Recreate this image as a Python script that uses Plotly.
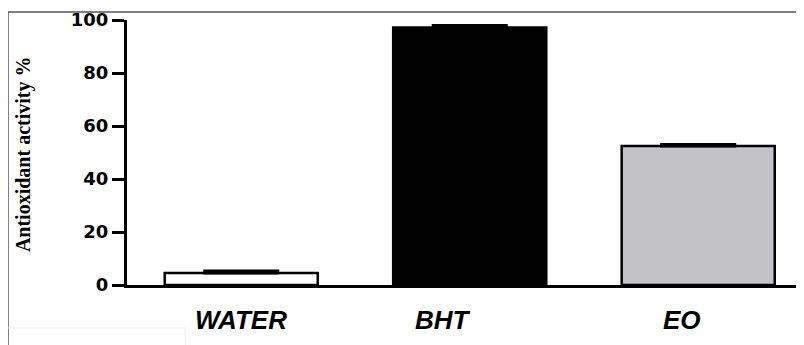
import plotly.graph_objects as go

categories = ["WATER", "BHT", "EO"]
values = [4.5, 97.2, 52.5]
errors = [0.8, 0.7, 0.5]
fill_colors = ["#ffffff", "#000000", "#c4c4c8"]
label_shift = [0, -27, -16]
y_ticks = [0, 20, 40, 60, 80, 100]

fig = go.Figure()
fig.add_trace(go.Bar(
    x=categories, y=values,
    width=0.67,
    marker=dict(color=fill_colors, line=dict(color="#000000", width=2.5)),
    error_y=dict(type="data", array=errors, arrayminus=[0, 0, 0], symmetric=False,
                 color="#000000", thickness=3, width=38),
    showlegend=False,
))

for i, c in enumerate(categories):
    fig.add_annotation(
        x=c, y=0, xref="x", yref="y", yanchor="top", yshift=-18,
        xshift=label_shift[i], showarrow=False, text=c,
        font=dict(family="Liberation Sans", size=26, color="#000000", weight="bold", style="italic"),
    )

fig.add_annotation(
    x=-0.1536, y=0.494, xref="paper", yref="paper", textangle=-90,
    xanchor="center", yanchor="middle",
    showarrow=False, text="Antioxidant activity %",
    font=dict(family="Liberation Serif", size=20, color="#000000", weight="bold"),
)

# outer frame
fig.add_shape(type="line", xref="paper", yref="paper", x0=-0.1758, x1=1.0, y0=1.0302, y1=1.0302,
              line=dict(color="#555555", width=1.5))
fig.add_shape(type="line", xref="paper", yref="paper", x0=-0.1758, x1=-0.1758, y0=1.0302, y1=-0.23,
              line=dict(color="#555555", width=1.5))
fig.add_shape(type="line", xref="paper", yref="paper", x0=-0.1758, x1=0.086, y0=-0.162, y1=-0.162,
              line=dict(color="#eeeeee", width=1))
fig.add_shape(type="line", xref="paper", yref="paper", x0=0.086, x1=0.086, y0=-0.162, y1=-0.23,
              line=dict(color="#eeeeee", width=1))

fig.update_layout(
    width=796, height=337,
    margin=dict(l=119, r=0, t=12, b=60),
    paper_bgcolor="#ffffff", plot_bgcolor="#ffffff",
    bargap=0.33,
    xaxis=dict(range=[-0.5, 2.463], showticklabels=False, ticks="", showgrid=False,
               showline=True, linecolor="#000000", linewidth=3, zeroline=False),
    yaxis=dict(range=[0, 100], tickvals=y_ticks, showgrid=False, zeroline=False,
               showline=True, linecolor="#000000", linewidth=3,
               ticks="outside", ticklen=12, tickwidth=2.5, tickcolor="#000000",
               tickfont=dict(family="DejaVu Sans", size=18, color="#000000", weight="bold")),
)

fig.write_html("out.html")
